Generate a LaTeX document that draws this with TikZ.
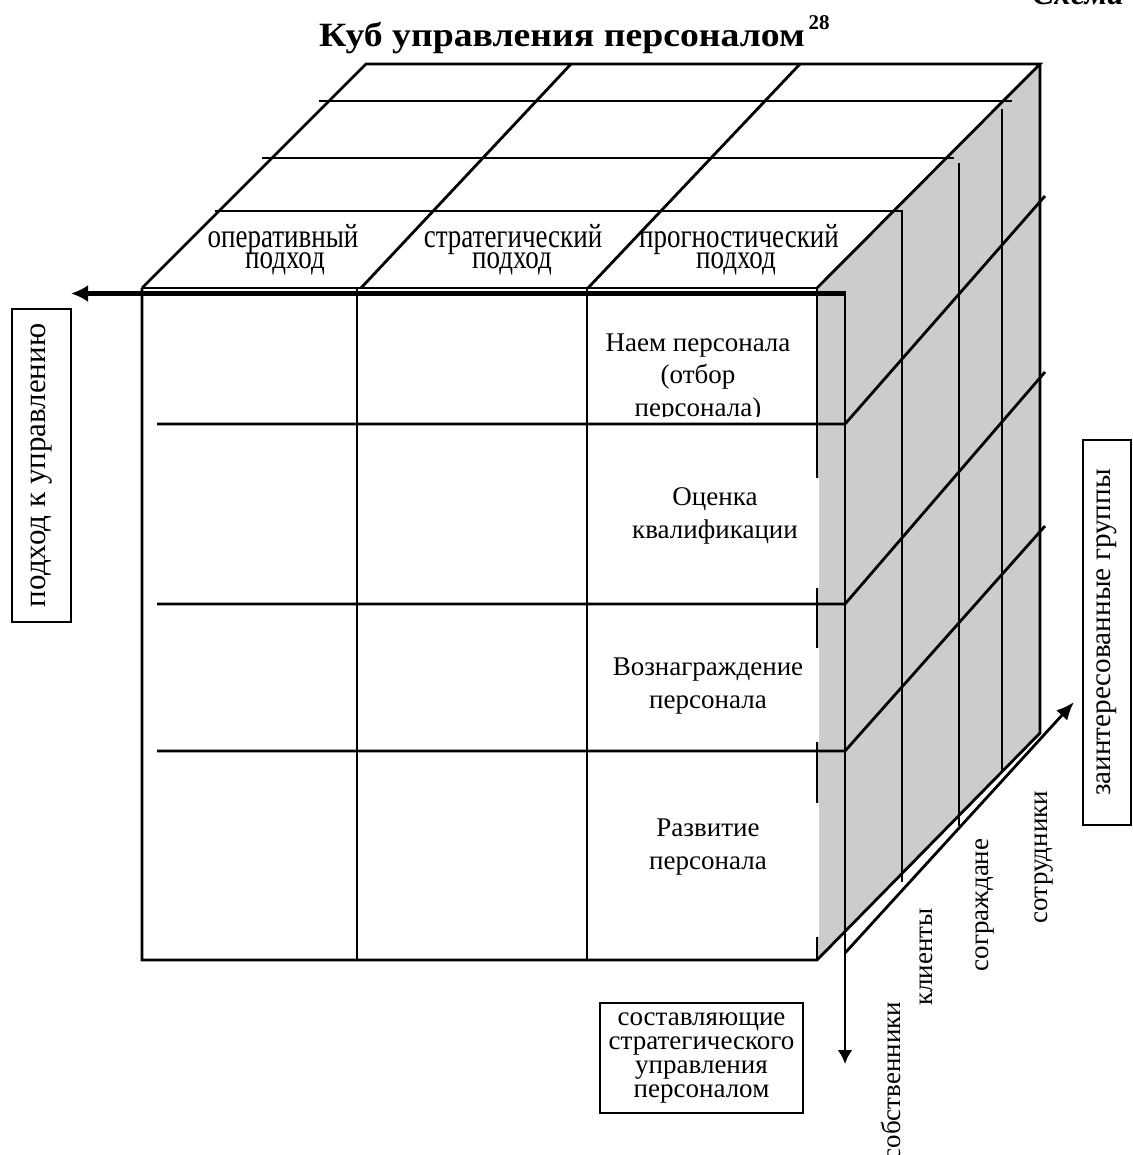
\documentclass[tikz,border=0pt]{standalone}
\usepackage{fontspec}
\setmainfont{Liberation Serif}
\usetikzlibrary{arrows.meta}
\tikzset{
  ln/.style={line width=1.4pt},
  lnthin/.style={line width=0.9pt},
  txt/.style={font=\fontsize{13.5}{16.25}\selectfont, inner sep=0pt, align=center},
  toplbl/.style={font=\fontsize{13.5}{16}\selectfont, inner sep=0pt, anchor=base},
  axlbl/.style={font=\fontsize{13.5}{16}\selectfont, inner sep=0pt, anchor=base, rotate=90},
  sidebox/.style={draw, line width=1.4pt, rotate=90, inner sep=0pt},
  whitebox/.style={fill=white},
}
\begin{document}
\begin{tikzpicture}[x=0.5pt,y=-0.5pt]
\useasboundingbox (0,0) rectangle (1133,1155);
% cube corners
\coordinate (FTL) at (142,288);
\coordinate (FTR) at (817,288);
\coordinate (FBL) at (142,960);
\coordinate (FBR) at (817,960);
\coordinate (BTL) at (366,64);
\coordinate (BTR) at (1040,64);
\coordinate (BBR) at (1040,733);
% side face shading
\fill[black!20] (FTR) -- (BTR) -- (BBR) -- (FBR) -- cycle;
% top face
\draw[ln] (FTL) -- (BTL) -- (BTR) -- (FTR);
\draw[lnthin] (FTL) -- (FTR);
\draw[ln] (571,64) -- (361,288);
\draw[ln] (800,64) -- (588,288);
\draw[lnthin] (319,101) -- (1012,101);
\draw[lnthin] (262,158) -- (954,158);
\draw[ln] (215,211) -- (902,211) -- (902,882);
\draw[ln] (959,163) -- (959,826);
\draw[ln] (1002,109) -- (1002,772);
% front face
\draw[ln] (FTL) -- (FBL) -- (FBR) -- (BBR) -- (BTR);
\draw[ln] (FTR) -- (FBR);
\draw[ln] (357,288) -- (357,960);
\draw[ln] (587,288) -- (587,960);
\draw[ln] (157,424) -- (845,424) -- (1045,196);
\draw[ln] (157,604) -- (845,604) -- (1045,372);
\draw[ln] (157,751) -- (845,751) -- (1045,526);
% white text boxes over the front-right edge
\fill[whitebox] (605,478) rectangle (818.5,588);
\fill[whitebox] (600,648) rectangle (818.5,742);
\fill[whitebox] (600,803) rectangle (818.5,937);
% front face texts
\begin{scope}
\clip (592,300) rectangle (812,416);
\node[txt] (naem) at (698,378) {Наем персонала\\(отбор\\персонала)};
\end{scope}
\node[txt] (ocen) at (715,516) {Оценка\\квалификации};
\node[txt] (vozn) at (708,686) {Вознаграждение\\персонала};
\node[txt] (razv) at (708,847) {Развитие\\персонала};
% top face labels
\node[toplbl] (op1) at (283,248) {\scalebox{1}[1.25]{оперативный}};
\node[toplbl] (op2) at (285,268) {\scalebox{1}[1.25]{подход}};
\node[toplbl] (st1) at (513,248) {\scalebox{1}[1.25]{стратегический}};
\node[toplbl] (st2) at (512,268) {\scalebox{1}[1.25]{подход}};
\node[toplbl] (pr1) at (739,248) {\scalebox{1}[1.25]{прогностический}};
\node[toplbl] (pr2) at (736,268) {\scalebox{1}[1.25]{подход}};
% axes
\coordinate (axO) at (845,293.5);
\coordinate (axL) at (71,293.5);
\coordinate (axD) at (845,1064);
\coordinate (dgS) at (845,953);
\coordinate (dgE) at (1074,702);
\draw[line width=2.5pt, -{Latex[length=8.5pt,width=8.5pt]}] (axO) -- (axL);
\draw[ln, -{Latex[length=7pt,width=7.5pt]}] (845,291) -- (axD);
\draw[ln, -{Latex[length=9pt,width=7.5pt]}] (dgS) -- (dgE);
% axis label boxes
\node[sidebox, font=\fontsize{15.5}{18}\selectfont, minimum width=156.5pt, minimum height=29.5pt] (podh) at (41.5,465.5) {подход к управлению};
\node[sidebox, font=\fontsize{14.6}{18}\selectfont, minimum width=192.5pt, minimum height=24pt] (zaint) at (1107,632.5) {заинтересованные группы};
\node[draw, line width=1.4pt, txt, font=\fontsize{13.5}{12}\selectfont, minimum width=101.5pt, minimum height=55pt] (sost) at (701.5,1058) {составляющие\\стратегического\\управления\\персоналом};
% group labels
\node[axlbl] (sobs) at (900,1081) {собственники};
\node[axlbl] (klie) at (932,957) {клиенты};
\node[axlbl] (sogr) at (988,905) {сограждане};
\node[axlbl] (sotr) at (1047,857) {сотрудники};
% title
\node[font=\fontsize{17}{20}\selectfont\bfseries, anchor=base, inner sep=0pt] (title) at (562,47) {\scalebox{1.11}[1]{Куб управления персоналом}};
\node[font=\fontsize{10.5}{12}\selectfont\bfseries, anchor=base west, inner sep=0pt] (sup) at ([xshift=1.5pt,yshift=8.5pt]title.base east) {28};
\node[font=\fontsize{16.5}{20}\selectfont\bfseries\itshape, anchor=base west, inner sep=0pt] (schema) at (1032,5) {Схема};
\end{tikzpicture}
\end{document}
